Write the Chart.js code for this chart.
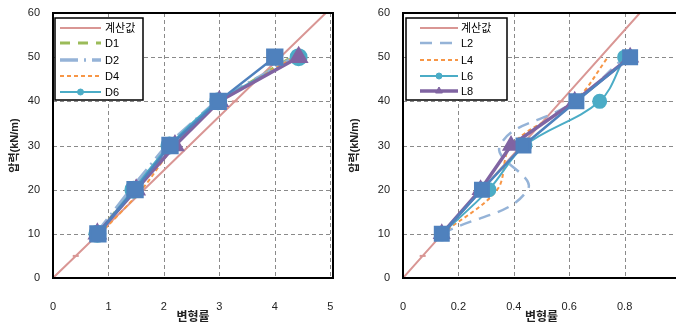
<!DOCTYPE html>
<html>
<head>
<meta charset="utf-8">
<script src="https://cdn.jsdelivr.net/npm/chart.js@4"></script>
<style>
html, body { margin: 0; padding: 0; background: #fff; overflow: hidden; width: 676px; height: 324px; }
#left { position: absolute; left: 0; top: 0; }
#right { position: absolute; left: 340px; top: 0; }
</style>
</head>
<body>
<canvas id="left" width="346" height="324"></canvas>
<canvas id="right" width="352" height="324"></canvas>
<script>
// pressure levels (kN/m) shared by all measured series
const loads = [10, 20, 30, 40, 50];
const calcLoads = [0, 5, 40, 60];

// left chart: D series strain
const leftCalcStrain = [0, 0.41, 3.28, 4.92];
const d1Strain = [0.8, 1.45, 2.15, 3.0, 4.3];
const d2Strain = [0.78, 1.4, 2.05, 2.95, 4.35];
const d4Strain = [0.85, 1.6, 2.2, 3.05, 4.35];
const d6Strain = [0.8, 1.45, 2.1, 2.98, 4.43];
const d8Strain = [0.8, 1.5, 2.2, 3.0, 4.43];
const d10Strain = [0.81, 1.48, 2.11, 2.98, 4.0];

// right chart: L series strain
const rightCalcStrain = [0, 0.071, 0.57, 0.855];
const l2Strain = [0.14, 0.45, 0.35, 0.62, 0.8];
const l4Strain = [0.14, 0.34, 0.39, 0.62, 0.74];
const l6Strain = [0.14, 0.31, 0.44, 0.71, 0.8];
const l8Strain = [0.14, 0.28, 0.39, 0.62, 0.82];
const l10Strain = [0.14, 0.285, 0.435, 0.626, 0.82];

const leftTicks = [0, 1, 2, 3, 4, 5];
const rightTicks = [0, 0.2, 0.4, 0.6, 0.8];   // the 1 sits past the page edge

function pts(xs, ys) {
    return xs.map((x, i) => ({ x: x, y: ys[i] }));
}

const FONT = "'Liberation Sans', 'Noto Sans CJK KR', sans-serif";

// dashed grey grid at the tick positions
const gridPlugin = {
    id: 'dashGrid',
    beforeDatasetsDraw(chart) {
        const a = chart.chartArea, ctx = chart.ctx;
        const xs = chart.scales.x, ys = chart.scales.y;
        ctx.save();
        ctx.strokeStyle = '#8a8a8a';
        ctx.lineWidth = 1;
        ctx.setLineDash([4, 3]);
        ctx.beginPath();
        xs.ticks.forEach(t => {
            const px = Math.round(xs.getPixelForValue(t.value)) + 0.5;
            ctx.moveTo(px, a.top);
            ctx.lineTo(px, a.bottom);
        });
        ys.ticks.forEach(t => {
            const py = Math.round(ys.getPixelForValue(t.value)) + 0.5;
            ctx.moveTo(a.left, py);
            ctx.lineTo(a.right, py);
        });
        ctx.stroke();
        ctx.restore();
    }
};

// black frame round the plot area
const framePlugin = {
    id: 'frame',
    afterDatasetsDraw(chart) {
        const a = chart.chartArea, ctx = chart.ctx;
        ctx.save();
        ctx.strokeStyle = '#000';
        ctx.lineWidth = 2;
        ctx.strokeRect(a.left, a.top, a.right - a.left, a.bottom - a.top);
        ctx.restore();
    }
};

// boxed legend inside the plot, only the first few series
const boxLegend = {
    id: 'boxLegend',
    afterDraw(chart, args, o) {
        const ctx = chart.ctx;
        ctx.save();
        ctx.fillStyle = '#fff';
        ctx.fillRect(o.x, o.y, o.w, o.h);
        ctx.strokeStyle = '#000';
        ctx.lineWidth = 1.5;
        ctx.strokeRect(o.x, o.y, o.w, o.h);
        chart.data.datasets.slice(0, o.rows.length).forEach((ds, i) => {
            const y = o.rows[i];
            ctx.strokeStyle = ds.borderColor;
            ctx.lineWidth = ds.borderWidth;
            ctx.setLineDash(ds.borderDash || []);
            ctx.beginPath();
            ctx.moveTo(o.x0, y);
            ctx.lineTo(o.x1, y);
            ctx.stroke();
            ctx.setLineDash([]);
            if (ds.legendMarker) {
                ctx.fillStyle = ds.borderColor;
                ctx.lineWidth = 1;
                Chart.helpers.drawPoint(ctx, { pointStyle: ds.pointStyle, radius: ds.legendMarker, rotation: 0, borderWidth: 1 }, (o.x0 + o.x1) / 2, y);
            }
            ctx.fillStyle = '#000';
            ctx.font = '11px ' + FONT;
            ctx.textBaseline = 'middle';
            ctx.fillText(ds.label, o.tx, y + 1);
        });
        ctx.restore();
    }
};

function series(label, xs, ys, color, width, extra) {
    return Object.assign({
        label: label,
        data: pts(xs, ys),
        showLine: true,
        borderColor: color,
        backgroundColor: color,
        borderWidth: width,
        pointRadius: 0,
        tension: 0
    }, extra || {});
}

function makeScales(xMax, yAxisWidth, xTickList) {
    return {
        x: {
            type: 'linear', min: 0, max: xMax,
            afterBuildTicks: s => { s.ticks = xTickList.map(v => ({ value: v })); },
            afterFit: s => { s.height = 46; s.paddingLeft = 0; s.paddingRight = 0; },
            grid: { display: false, drawTicks: false },
            border: { display: false },
            ticks: { padding: 22, color: '#222', font: { size: 11, family: FONT } },
            title: { display: true, text: '변형률', color: '#222', padding: { top: 0, bottom: -1 }, font: { size: 12, weight: 'bold', family: FONT } }
        },
        y: {
            type: 'linear', min: 0, max: 60,
            ticks: { stepSize: 10, padding: 13, color: '#222', font: { size: 11, family: FONT } },
            afterFit: s => { s.width = yAxisWidth; s.paddingTop = 0; s.paddingBottom = 0; },
            grid: { display: false, drawTicks: false },
            border: { display: false },
            title: { display: true, text: '압력(kN/m)', color: '#222', padding: { top: 8, bottom: 0 }, font: { size: 11, weight: 'bold', family: FONT } }
        }
    };
}

function withOrder(list) {
    // first series at the bottom, last on top (like the spreadsheet)
    list.forEach((d, i) => { d.order = list.length - i; });
    return list;
}

const leftSets = withOrder([
    series('계산값', leftCalcStrain, calcLoads, '#D99694', 2, { pointRadius: 3, pointStyle: 'line', pointBorderWidth: 2 }),
    series('D1', d1Strain, loads, '#9BBB59', 3, { borderDash: [10, 8] }),
    series('D2', d2Strain, loads, '#95B3D7', 3.5, { borderDash: [18, 6, 2, 6] }),
    series('D4', d4Strain, loads, '#F79646', 2, { borderDash: [4, 3], tension: 0.3 }),
    series('D6', d6Strain, loads, '#4BACC6', 2, { pointRadius: 8, pointStyle: 'circle', legendMarker: 3, tension: 0.3 }),
    series('D8', d8Strain, loads, '#8064A2', 3.5, { pointRadius: 8, pointStyle: 'triangle', legendMarker: 4 }),
    series('D10', d10Strain, loads, '#4F81BD', 2.5, { pointRadius: 10.5, pointStyle: 'rect' })
]);

const rightSets = withOrder([
    series('계산값', rightCalcStrain, calcLoads, '#D99694', 2, { pointRadius: 3, pointStyle: 'line', pointBorderWidth: 2 }),
    series('L2', l2Strain, loads, '#95B3D7', 2.5, { borderDash: [12, 8], tension: 0.45 }),
    series('L4', l4Strain, loads, '#F79646', 2, { borderDash: [4, 3], tension: 0.35 }),
    series('L6', l6Strain, loads, '#4BACC6', 2, { pointRadius: 6.5, pointStyle: 'circle', legendMarker: 3, tension: 0.35 }),
    series('L8', l8Strain, loads, '#8064A2', 3.5, { pointRadius: 7, pointStyle: 'triangle', legendMarker: 4 }),
    series('L10', l10Strain, loads, '#4F81BD', 2.5, { pointRadius: 9.5, pointStyle: 'rect' })
]);

new Chart(document.getElementById('left'), {
    type: 'scatter',
    data: { datasets: leftSets },
    options: {
        responsive: false,
        animation: false,
        layout: { padding: { top: 13, right: 1, left: 0, bottom: 0 } },
        scales: makeScales(5.05, 53, leftTicks),
        plugins: {
            legend: { display: false },
            tooltip: { enabled: false },
            boxLegend: { x: 55, y: 18, w: 88, h: 82, x0: 60, x1: 101, tx: 105, rows: [28, 43, 60, 76, 92] }
        }
    },
    plugins: [gridPlugin, framePlugin, boxLegend]
});

new Chart(document.getElementById('right'), {
    type: 'scatter',
    data: { datasets: rightSets },
    options: {
        responsive: false,
        animation: false,
        layout: { padding: { top: 13, right: 1, left: 0, bottom: 0 } },
        scales: makeScales(1, 63, rightTicks),
        plugins: {
            legend: { display: false },
            tooltip: { enabled: false },
            boxLegend: { x: 66, y: 18, w: 101, h: 82, x0: 80, x1: 118, tx: 121, rows: [28, 43, 60, 76, 91] }
        }
    },
    plugins: [gridPlugin, framePlugin, boxLegend]
});
</script>
</body>
</html>
